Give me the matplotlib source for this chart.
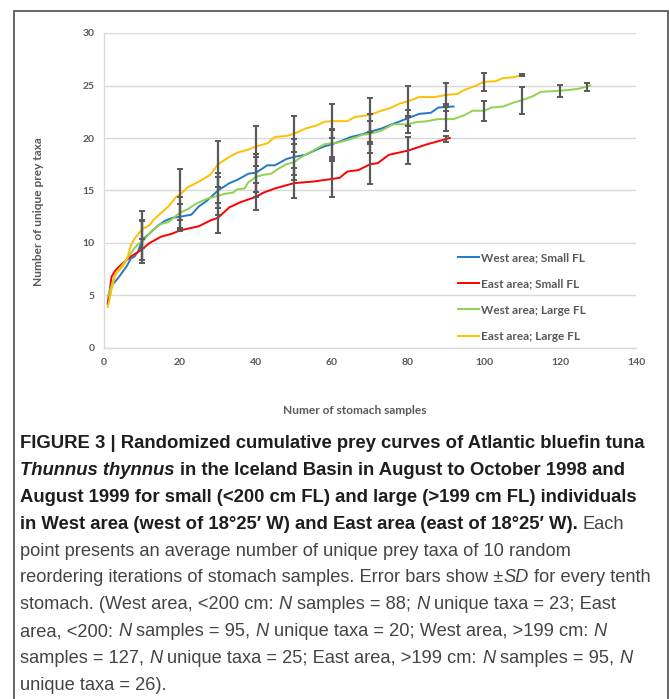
import matplotlib
matplotlib.use("Agg")
import matplotlib.pyplot as plt
from matplotlib import font_manager
from matplotlib.patches import Rectangle
from matplotlib.transforms import IdentityTransform

# --- curve data ---
ws_x = [1, 2, 4, 6, 7, 8, 9, 10, 12, 14, 16, 18, 20, 23, 25, 27, 30, 33, 35, 38,
        40, 43, 45, 48, 50, 53, 56, 58, 60, 63, 65, 68, 70, 73, 75, 78, 80, 83, 86, 88, 92]
ws_y = [4.3, 5.9, 6.8, 7.8, 8.5, 8.7, 9.2, 10.3, 10.9, 11.6, 12.1, 12.4, 12.5, 12.7, 13.5, 14.0, 15.0, 15.7, 16.0, 16.6,
        16.7, 17.4, 17.4, 18.0, 18.2, 18.4, 18.9, 19.2, 19.4, 19.8, 20.1, 20.35, 20.6, 20.9, 21.2, 21.6, 21.9, 22.3, 22.4, 22.9, 23.0]

es_x = [1, 2, 3, 5, 7, 10, 12, 15, 18, 20, 25, 28, 30, 33, 36, 40, 42, 45, 50, 55,
        60, 62, 64, 67, 70, 72, 75, 80, 85, 91]
es_y = [4.2, 6.8, 7.4, 8.1, 8.7, 9.4, 10.0, 10.6, 10.9, 11.2, 11.6, 12.15, 12.4, 13.4, 13.9, 14.4, 14.8, 15.2, 15.7, 15.85,
        16.1, 16.2, 16.8, 16.95, 17.5, 17.6, 18.4, 18.8, 19.4, 20.0]

wl_x = [1, 2, 3, 5, 7, 8, 9, 10, 11, 13, 15, 17, 18, 20, 22, 24, 27, 30, 32, 34,
        35, 37, 38, 40, 42, 44, 46, 48, 50, 52, 55, 58, 60, 62, 65, 68, 70, 73, 76, 78,
        80, 82, 85, 88, 92, 95, 97, 100, 102, 105, 108, 110, 113, 115, 118, 120, 123, 125, 128]
wl_y = [4.9, 6.0, 7.0, 8.0, 9.0, 9.5, 9.9, 10.1, 10.5, 11.3, 11.8, 12.0, 12.3, 12.9, 13.2, 13.7, 14.2, 14.5, 14.7, 14.8,
        15.1, 15.2, 15.8, 16.3, 16.5, 16.6, 17.1, 17.5, 17.7, 18.2, 18.8, 19.4, 19.5, 19.6, 19.9, 20.3, 20.4, 20.7, 21.3, 21.3,
        21.3, 21.5, 21.6, 21.8, 21.8, 22.2, 22.6, 22.6, 22.9, 23.0, 23.4, 23.6, 24.0, 24.4, 24.45, 24.5, 24.6, 24.7, 25.0]

el_x = [1, 2, 3, 5, 6, 7, 8, 10, 12, 13, 15, 17, 19, 20, 22, 25, 28, 30, 33, 35,
        38, 40, 43, 45, 48, 50, 53, 56, 58, 60, 64, 66, 70, 73, 75, 78, 80, 83, 87, 90,
        93, 95, 98, 100, 103, 105, 108, 110]
el_y = [3.9, 5.6, 7.0, 7.8, 8.4, 9.7, 10.4, 11.3, 11.7, 12.2, 12.85, 13.5, 14.4, 14.6, 15.3, 15.85, 16.5, 17.5, 18.2, 18.6,
        18.9, 19.2, 19.5, 20.1, 20.2, 20.4, 20.9, 21.2, 21.55, 21.6, 21.6, 22.0, 22.2, 22.6, 22.8, 23.3, 23.5, 23.9, 23.9, 24.1,
        24.2, 24.6, 25.0, 25.35, 25.4, 25.7, 25.8, 26.0]

# --- error bars (every tenth stomach) ---
ws_ex = [10, 20, 30, 40, 50, 60, 70, 80, 90]
ws_em = [10.3, 12.5, 15.0, 16.7, 18.2, 19.4, 20.6, 21.9, 22.9]
ws_sd = [1.9, 1.2, 1.7, 1.8, 1.75, 1.4, 1.0, 0.75, 0.35]

es_ex = [10, 20, 30, 40, 50, 60, 70, 80, 90]
es_em = [9.4, 11.2, 12.4, 14.4, 15.7, 16.1, 17.5, 18.8, 19.9]
es_sd = [1.0, 0.1, 1.45, 1.3, 1.45, 1.75, 1.9, 1.25, 0.3]

wl_ex = [10, 20, 30, 40, 50, 60, 70, 80, 90, 100, 110, 120, 127]
wl_em = [10.1, 12.9, 14.5, 16.3, 17.7, 19.5, 20.4, 21.3, 21.8, 22.6, 23.6, 24.5, 24.85]
wl_sd = [2.0, 1.5, 1.8, 1.9, 1.7, 1.35, 1.85, 0.8, 1.15, 0.97, 1.27, 0.55, 0.35]

el_ex = [10, 20, 30, 40, 50, 60, 70, 80, 90, 100, 110]
el_em = [11.3, 14.6, 17.5, 19.2, 20.4, 21.6, 22.2, 23.5, 24.1, 25.35, 26.0]
el_sd = [1.75, 2.4, 2.2, 1.9, 1.7, 1.6, 1.65, 1.5, 1.1, 0.85, 0.05]

labels = ["West area; Small FL", "East area; Small FL", "West area; Large FL", "East area; Large FL"]
colors = ["#2479c6", "#ff0000", "#92d050", "#ffc000"]

x_ticks = [0, 20, 40, 60, 80, 100, 120, 140]
y_ticks = [0, 5, 10, 15, 20, 25, 30]

caption = [
    [("FIGURE 3 | Randomized cumulative prey curves of Atlantic bluefin tuna", "b")],
    [("Thunnus thynnus", "bi"), (" in the Iceland Basin in August to October 1998 and", "b")],
    [("August 1999 for small (<200 cm FL) and large (>199 cm FL) individuals", "b")],
    [("in West area (west of 18\u00b025\u2032 W) and East area (east of 18\u00b025\u2032 W).", "b"), (" Each", "n")],
    [("point presents an average number of unique prey taxa of 10 random", "n")],
    [("reordering iterations of stomach samples. Error bars show \u00b1", "n"), ("SD", "i"),
     (" for every tenth", "n")],
    [("stomach. (West area, <200 cm: ", "n"), ("N", "i"), (" samples = 88; ", "n"), ("N", "i"),
     (" unique taxa = 23; East", "n")],
    [("area, <200: ", "n"), ("N", "i"), (" samples = 95, ", "n"), ("N", "i"),
     (" unique taxa = 20; West area, >199 cm: ", "n"), ("N", "i")],
    [("samples = 127, ", "n"), ("N", "i"), (" unique taxa = 25; East area, >199 cm: ", "n"), ("N", "i"),
     (" samples = 95, ", "n"), ("N", "i")],
    [("unique taxa = 26).", "n")],
]

installed = {f.name for f in font_manager.fontManager.ttflist}
chart_font = "Lato" if "Lato" in installed else "DejaVu Sans"
cap_font = "Liberation Sans Narrow" if "Liberation Sans Narrow" in installed else "Liberation Sans"

W, H = 669, 699
fig = plt.figure(figsize=(W / 100, H / 100), dpi=100)
fig.patch.set_facecolor("white")

# frame round the whole figure panel
fig.patches.append(Rectangle((14 / W, -0.05), (668 - 14) / W, 1.05 - 11 / H,
                             transform=fig.transFigure, fill=False,
                             edgecolor="#5a5a5a", linewidth=1.3))

ax = fig.add_axes([104 / W, (H - 348) / H, 532 / W, 315 / H])
gray = "#595959"

series = [(ws_x, ws_y), (es_x, es_y), (wl_x, wl_y), (el_x, el_y)]
for (xs, ys), lab, col in zip(series, labels, colors):
    ax.plot(xs, ys, color=col, linewidth=1.4, label=lab, zorder=3, solid_joinstyle="round")

errs = [(ws_ex, ws_em, ws_sd), (es_ex, es_em, es_sd), (wl_ex, wl_em, wl_sd), (el_ex, el_em, el_sd)]
for ex, em, sd in errs:
    ax.errorbar(ex, em, yerr=sd, fmt="none", ecolor=gray, elinewidth=1.6,
                capsize=2.2, capthick=1.4, zorder=4)

ax.set_xlim(0, 140)
ax.set_ylim(0, 30)
ax.set_xticks(x_ticks)
ax.set_yticks(y_ticks)
ax.grid(True, axis="y", color="#d9d9d9", linewidth=1.0)
ax.set_axisbelow(True)
for s in ["top", "right"]:
    ax.spines[s].set_visible(False)
for s in ["left", "bottom"]:
    ax.spines[s].set_color("#d9d9d9")
    ax.spines[s].set_linewidth(1.0)
ax.tick_params(length=0, pad=7, labelsize=7.5, labelcolor=gray)
for lbl in ax.get_xticklabels() + ax.get_yticklabels():
    lbl.set_fontfamily(chart_font)
    lbl.set_fontweight("bold")

ax.set_xlabel("Numer of stomach samples", fontsize=8.6, fontweight="bold", color=gray, family=chart_font)
ax.set_ylabel("Number of unique prey taxa", fontsize=8.6, fontweight="bold", color=gray, family=chart_font)
ax.xaxis.set_label_coords(0.472, -0.181)
ax.yaxis.set_label_coords(-0.113, 0.432)

leg = ax.legend(loc="upper left", bbox_to_anchor=(0.665, 0.305), frameon=False,
                borderpad=0, borderaxespad=0, handlelength=1.8, handletextpad=0.15,
                labelspacing=1.3, prop={"family": chart_font, "weight": "bold", "size": 8.5})
for t in leg.get_texts():
    t.set_color(gray)

# --- caption, drawn piece by piece in pixel coordinates ---
renderer = fig.canvas.get_renderer()
styles = {"b": ("bold", "normal", "#1e1e1e"), "bi": ("bold", "italic", "#1e1e1e"),
          "n": ("normal", "normal", "#444444"), "i": ("normal", "italic", "#444444")}


def text_width(s, key, size):
    w, st, _ = styles[key]
    t = fig.text(0, 0, s, transform=IdentityTransform(), fontsize=size,
                 fontweight=w, fontstyle=st, family=cap_font)
    wd = t.get_window_extent(renderer).width
    t.remove()
    return wd


def space_width(key, size):
    return text_width("a a", key, size) - text_width("aa", key, size)


bold_size = 11.5
w1 = text_width(caption[0][0][0], "b", bold_size)
bold_size = bold_size * 632 / w1
norm_size = bold_size * 0.985

x0 = 20
base0 = 448
step = 26.9
for i, line in enumerate(caption):
    x = x0
    y = H - (base0 + i * step)
    for s, key in line:
        size = bold_size if key in ("b", "bi") else norm_size
        core = s.strip(" ")
        lead = len(s) - len(s.lstrip(" "))
        trail = len(s) - len(s.rstrip(" "))
        sp = space_width(key, size)
        x += lead * sp
        w, st, col = styles[key]
        fig.text(x, y, core, transform=IdentityTransform(), fontsize=size,
                 fontweight=w, fontstyle=st, family=cap_font, color=col, va="baseline")
        x += text_width(core, key, size) + trail * sp

fig.savefig("out.png", dpi=100, facecolor="white")
